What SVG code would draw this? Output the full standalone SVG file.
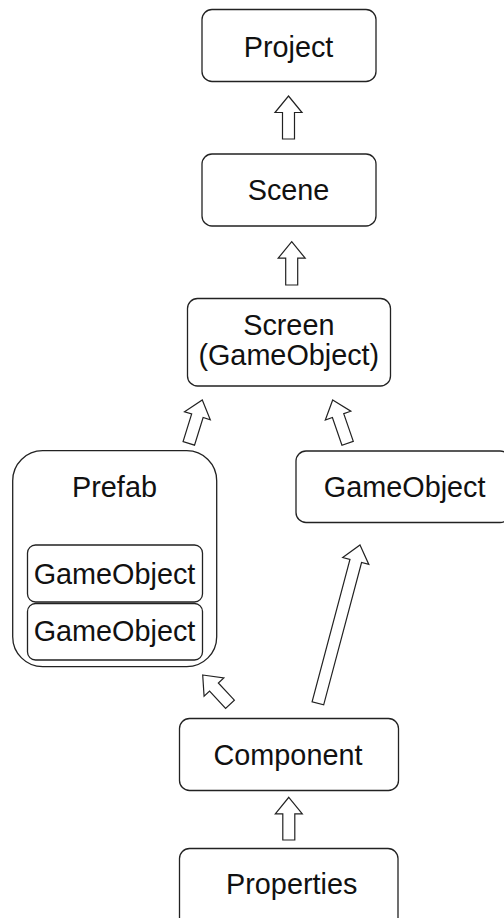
<svg xmlns="http://www.w3.org/2000/svg" width="504" height="918" viewBox="0 0 504 918">
<style>
.box{fill:#fff;stroke:#222;stroke-width:1.3}
.arr{fill:#fff;stroke:#222;stroke-width:1.2;stroke-linejoin:miter}
text{font-family:"Liberation Sans",Arial,Helvetica,sans-serif;font-size:28.8px;fill:#111;text-anchor:middle}
</style>
<rect width="504" height="918" fill="#fff"/>
<g id="connectors">
<path class="arr" transform="translate(288.5,96)" d="M0,0 L13.5,16.5 L6,16.5 L6,43 L-6,43 L-6,16.5 L-13.5,16.5 Z"/>
<path class="arr" transform="translate(291.7,241.7)" d="M0,0 L13.5,16.5 L6,16.5 L6,43.3 L-6,43.3 L-6,16.5 L-13.5,16.5 Z"/>
<path class="arr" transform="translate(202.3,400) rotate(17.3)" d="M0,0 L13.5,16.5 L6,16.5 L6,45.4 L-6,45.4 L-6,16.5 L-13.5,16.5 Z"/>
<path class="arr" transform="translate(332.7,400) rotate(-19)" d="M0,0 L13.5,16.5 L6,16.5 L6,45.8 L-6,45.8 L-6,16.5 L-13.5,16.5 Z"/>
<path class="arr" transform="translate(202.7,675) rotate(-43)" d="M0,0 L13.5,16.5 L6,16.5 L6,40 L-6,40 L-6,16.5 L-13.5,16.5 Z"/>
<path class="arr" transform="translate(360,545) rotate(14.9)" d="M0,0 L13.5,16.5 L6,16.5 L6,163.8 L-6,163.8 L-6,16.5 L-13.5,16.5 Z"/>
<path class="arr" transform="translate(288.8,797.3)" d="M0,0 L13.5,16.5 L6,16.5 L6,42.7 L-6,42.7 L-6,16.5 L-13.5,16.5 Z"/>
</g>
<g id="project">
<rect class="box" x="202" y="9.5" width="174" height="72" rx="10"/>
<text x="288.5" y="56.5">Project</text>
</g>
<g id="scene">
<rect class="box" x="202" y="154" width="174" height="72" rx="10"/>
<text x="288.5" y="200">Scene</text>
</g>
<g id="screen">
<rect class="box" x="187.5" y="298.5" width="203" height="87.5" rx="10"/>
<text x="288.8" y="335">Screen</text>
<text x="288.8" y="365">(GameObject)</text>
</g>
<g id="prefab">
<rect class="box" x="12.7" y="450.7" width="204" height="216" rx="30"/>
<text x="114.5" y="497.3">Prefab</text>
</g>
<g id="gameobject-1">
<rect class="box" x="27.5" y="545" width="175" height="57" rx="8"/>
<text x="114.5" y="584">GameObject</text>
</g>
<g id="gameobject-2">
<rect class="box" x="27.5" y="603.5" width="175" height="56.5" rx="8"/>
<text x="114.5" y="641">GameObject</text>
</g>
<g id="gameobject">
<rect class="box" x="296" y="451" width="214" height="71.5" rx="10"/>
<text x="404.7" y="496.7">GameObject</text>
</g>
<g id="component">
<rect class="box" x="179.5" y="718.5" width="219" height="72" rx="10"/>
<text x="288" y="765">Component</text>
</g>
<g id="properties">
<rect class="box" x="179.5" y="848.5" width="218.5" height="80" rx="10"/>
<text x="291.7" y="894">Properties</text>
</g>
</svg>
